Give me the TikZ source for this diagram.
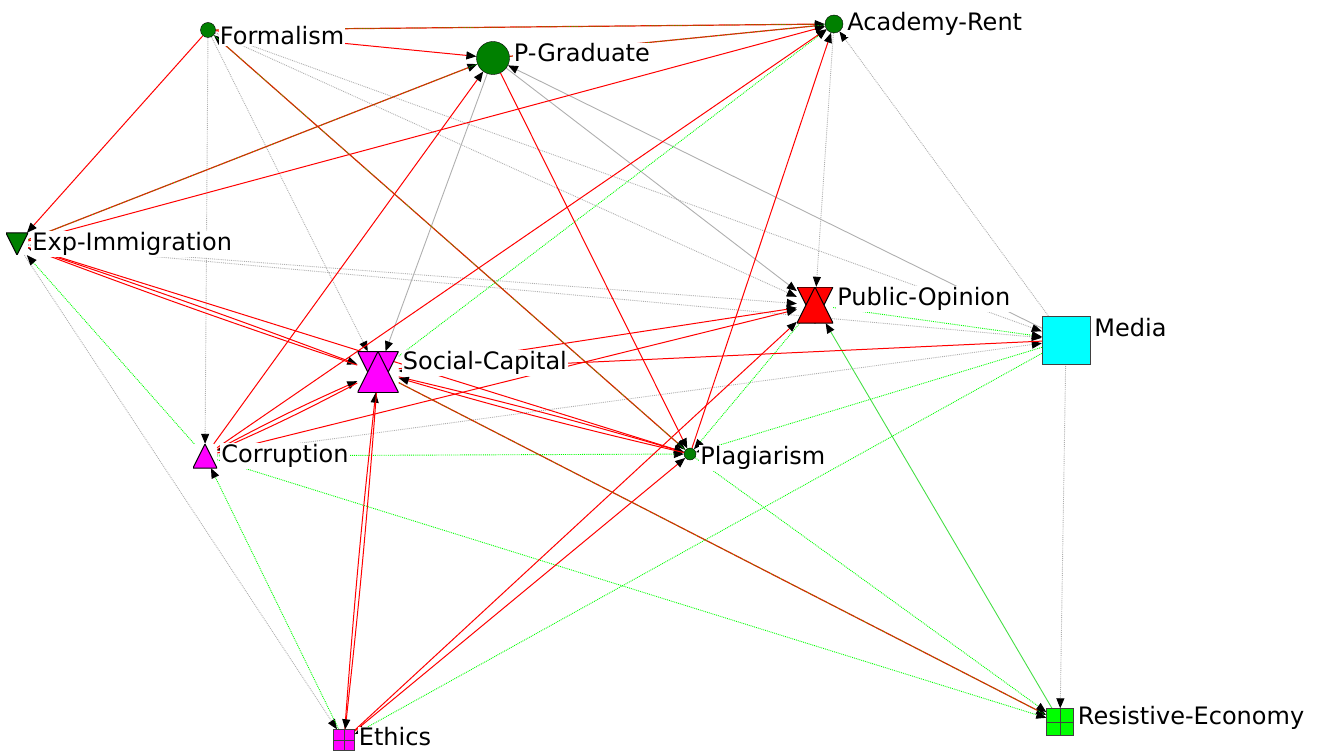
\documentclass[tikz,border=0pt]{standalone}
\usepackage{fontspec}
\setmainfont{DejaVu Sans}
\usetikzlibrary{arrows.meta}
\pgfdeclarelayer{edges}
\pgfsetlayers{edges,main}
\definecolor{dgreen}{RGB}{0,128,0}
\definecolor{lime}{RGB}{0,255,0}
\definecolor{netmagenta}{RGB}{255,0,255}
\definecolor{netcyan}{RGB}{0,255,255}
\definecolor{netgray}{RGB}{175,175,175}
\tikzset{
lab/.style={fill=white, inner sep=1pt, font=\fontsize{24}{28}\selectfont},
dot/.style={circle, draw, fill=dgreen, inner sep=0pt, minimum size=#1},
sqbox/.style={rectangle, draw=black!75, inner sep=0pt},
crossbox/.style={sqbox, path picture={\draw (path picture bounding box.north) -- (path picture bounding box.south) (path picture bounding box.west) -- (path picture bounding box.east);}},
hourglass/.style 2 args={rectangle, inner sep=0pt, minimum size=#1, path picture={
  \filldraw[fill=#2, line width=1pt] (path picture bounding box.north west) -- (path picture bounding box.north east) -- (path picture bounding box.south) -- cycle;
  \filldraw[fill=#2, line width=1pt] (path picture bounding box.south west) -- (path picture bounding box.south east) -- (path picture bounding box.north) -- cycle;}},
tridown/.style 2 args={rectangle, inner sep=0pt, minimum size=#1, path picture={
  \filldraw[fill=#2, line width=1pt] (path picture bounding box.north west) -- (path picture bounding box.north east) -- (path picture bounding box.south) -- cycle;}},
triup/.style 2 args={rectangle, inner sep=0pt, minimum size=#1, path picture={
  \filldraw[fill=#2, line width=1pt] (path picture bounding box.south west) -- (path picture bounding box.south east) -- (path picture bounding box.north) -- cycle;}},
postie/.style={draw=red, line width=1pt, ->},
negtie/.style={draw=lime, line width=0.9pt, densely dotted, ->},
negsolid/.style={draw=lime!60!netgray, line width=0.9pt, ->},
neutie/.style={draw=netgray, line width=0.9pt, densely dotted, ->},
neusolid/.style={draw=netgray, line width=0.9pt, ->},
mixtie/.style={draw=red, line width=1.2pt, ->, postaction={draw=lime, densely dotted, line width=0.6pt, -}}
}

\begin{document}
\begin{tikzpicture}[x=1pt, y=-1pt, label distance=3pt,
  >={Triangle[length=10pt, width=8pt, color=black]}]
\useasboundingbox (0,0) rectangle (1319,751);

% actors
\node[dot=15pt] (form) at (208,30) [label={[lab, yshift=-6pt]right:Formalism}] {};
\node[dot=33pt] (pgrad) at (493,58) [label={[lab, yshift=5pt]right:P-Graduate}] {};
\node[dot=18pt] (acad) at (834,24) [label={[lab]right:Academy-Rent}] {};
\node[tridown={22pt}{dgreen}] (expim) at (17,244) [label={[lab]right:Exp-Immigration}] {};
\node[hourglass={36pt}{red}] (pubop) at (815,305) [label={[lab, yshift=6pt]right:Public-Opinion}] {};
\node[sqbox, fill=netcyan, minimum size=48pt] (media) at (1066,340) [label={[lab, yshift=12pt]right:Media}] {};
\node[hourglass={41pt}{netmagenta}] (socap) at (378,372) [label={[lab, yshift=9pt]right:Social-Capital}] {};
\node[triup={24pt}{netmagenta}] (corr) at (205,456) [label={[lab]right:Corruption}] {};
\node[dot=12pt] (plag) at (690,454) [label={[lab, yshift=-4pt]right:Plagiarism}] {};
\node[crossbox, fill=netmagenta, minimum size=21pt] (ethics) at (344,740) [label={[lab, yshift=3pt]right:Ethics}] {};
\node[crossbox, fill=lime, minimum size=27pt] (resec) at (1060,722) [label={[lab, yshift=4pt]right:Resistive-Economy}] {};

\begin{pgfonlayer}{edges}
% neutral ties
\draw[neutie] (form) -- (corr);
\draw[neutie] (form) -- (socap);
\draw[neutie] (form) -- (pubop);
\draw[neutie] (form) -- (media);
\draw[neutie] (expim) -- (pubop);
\draw[neutie] (expim) -- (media);
\draw[neutie] (expim) -- (ethics);
\draw[neutie] (corr) -- (media);
\draw[neutie] (acad) -- (pubop);
\draw[neutie] (media) -- (acad);
\draw[neutie] (media) -- (resec);
\draw[neusolid] (pgrad) -- (socap);
\draw[neusolid] (pgrad) -- (pubop);
\draw[neusolid] (media) -- (pgrad);
% negative ties
\draw[negtie] (socap) -- (acad);
\draw[negtie] (corr) -- (expim);
\draw[negtie] (ethics) -- (corr);
\draw[negtie] (corr) -- (plag);
\draw[negtie] (corr) -- (resec);
\draw[negtie] (pubop) -- (media);
\draw[negtie] (pubop) -- (plag);
\draw[negsolid] (resec) -- (pubop);
\draw[negtie] (media) -- (plag);
\draw[negtie] (media) -- (ethics);
\draw[negtie] (plag) -- (resec);
% positive ties
\draw[postie] (form) -- (pgrad);
\draw[postie] (form) -- (expim);
\draw[postie] (expim) -- (acad);
\draw[postie] (expim) to[bend left=1] (socap);
\draw[postie] (socap) to[bend left=1] (expim);
\draw[postie] (expim) -- (plag);
\draw[postie] (corr) -- (pgrad);
\draw[postie] (corr) -- (acad);
\draw[postie] (corr) to[bend left=2] (socap);
\draw[postie] (socap) to[bend left=2] (corr);
\draw[postie] (corr) -- (pubop);
\draw[postie] (socap) -- (pubop);
\draw[postie] (media) -- (socap);
\draw[postie] (socap) to[bend left=1.5] (plag);
\draw[postie] (plag) to[bend left=1.5] (socap);
\draw[postie] (ethics) to[bend left=1] (socap);
\draw[postie] (socap) to[bend left=1] (ethics);
\draw[postie] (ethics) -- (pubop);
\draw[postie] (ethics) -- (plag);
\draw[postie] (plag) -- (acad);
\draw[postie] (pgrad) -- (plag);
% mixed ties
\draw[mixtie] (form) -- (acad);
\draw[mixtie] (pgrad) -- (acad);
\draw[mixtie] (expim) -- (pgrad);
\draw[mixtie, <->] (form) -- (plag);
\draw[mixtie] (socap) -- (resec);
\end{pgfonlayer}
\end{tikzpicture}
\end{document}
